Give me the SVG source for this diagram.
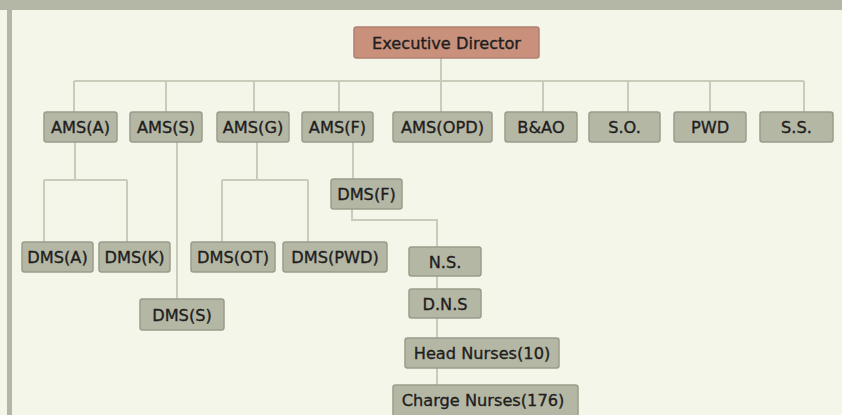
<svg xmlns="http://www.w3.org/2000/svg" width="842" height="415" viewBox="0 0 842 415">
<style>
.bg{fill:#F4F6E9}
.frame{fill:#B4B7A5}
.box{fill:#B5B7A5;stroke:#9A9C8B;stroke-width:1.5}
.top{fill:#C9917C;stroke:#B08070;stroke-width:1.5}
.t{font-family:"DejaVu Sans",Verdana,sans-serif;font-size:16.2px;fill:#1E1E1E;stroke:#1E1E1E;stroke-width:0.35;text-anchor:middle}
.c{fill:none;stroke:#C9CBBB;stroke-width:2}
</style>
<rect class="bg" x="0" y="0" width="842" height="415"/>
<rect class="frame" x="0" y="0" width="842" height="10"/>
<rect class="frame" x="7" y="0" width="5" height="415"/>
<g id="connectors">
<path class="c" d="M441,58V112M74,81H804M74,81V112M166,81V112M254,81V112M339,81V112M543,81V112M628,81V112M710,81V112M804,81V112"/>
<path class="c" d="M75,142V180M44,180H127M44,180V242M127,180V242"/>
<path class="c" d="M177,142V299"/>
<path class="c" d="M257,142V180M222,180H308M222,180V242M308,180V242"/>
<path class="c" d="M353,142V179"/>
<path class="c" d="M352,209V220H437V385"/>
</g>
<g id="ed"><rect class="top" x="354" y="27" width="185" height="31" rx="2.5"/><text class="t" x="446.5" y="48.5">Executive Director</text></g>
<g id="amsa"><rect class="box" x="44" y="112" width="73" height="30" rx="2.5"/><text class="t" x="80.5" y="133">AMS(A)</text></g>
<g id="amss"><rect class="box" x="130" y="112" width="72" height="30" rx="2.5"/><text class="t" x="166" y="133">AMS(S)</text></g>
<g id="amsg"><rect class="box" x="217" y="112" width="72" height="30" rx="2.5"/><text class="t" x="253" y="133">AMS(G)</text></g>
<g id="amsf"><rect class="box" x="302" y="112" width="71" height="30" rx="2.5"/><text class="t" x="337.5" y="133">AMS(F)</text></g>
<g id="amsopd"><rect class="box" x="393" y="112" width="99" height="30" rx="2.5"/><text class="t" x="442.5" y="133">AMS(OPD)</text></g>
<g id="bao"><rect class="box" x="505" y="112" width="72" height="30" rx="2.5"/><text class="t" x="541" y="133">B&amp;AO</text></g>
<g id="so"><rect class="box" x="589" y="112" width="71" height="30" rx="2.5"/><text class="t" x="624.5" y="133">S.O.</text></g>
<g id="pwd"><rect class="box" x="674" y="112" width="72" height="30" rx="2.5"/><text class="t" x="710" y="133">PWD</text></g>
<g id="ss"><rect class="box" x="760" y="112" width="73" height="30" rx="2.5"/><text class="t" x="796.5" y="133">S.S.</text></g>
<g id="dmsa"><rect class="box" x="22" y="242" width="71" height="30" rx="2.5"/><text class="t" x="57.5" y="263">DMS(A)</text></g>
<g id="dmsk"><rect class="box" x="99" y="242" width="71" height="30" rx="2.5"/><text class="t" x="134.5" y="263">DMS(K)</text></g>
<g id="dmss"><rect class="box" x="140" y="299" width="84" height="31" rx="2.5"/><text class="t" x="182" y="320.5">DMS(S)</text></g>
<g id="dmsot"><rect class="box" x="191" y="242" width="84" height="30" rx="2.5"/><text class="t" x="233" y="263">DMS(OT)</text></g>
<g id="dmspwd"><rect class="box" x="283" y="242" width="104" height="30" rx="2.5"/><text class="t" x="335" y="263">DMS(PWD)</text></g>
<g id="dmsf"><rect class="box" x="331" y="179" width="71" height="30" rx="2.5"/><text class="t" x="366.5" y="200">DMS(F)</text></g>
<g id="ns"><rect class="box" x="409" y="247" width="72" height="29" rx="2.5"/><text class="t" x="445" y="267.5">N.S.</text></g>
<g id="dns"><rect class="box" x="409" y="289" width="72" height="29" rx="2.5"/><text class="t" x="445" y="309.5">D.N.S</text></g>
<g id="head"><rect class="box" x="405" y="338" width="154" height="30" rx="2.5"/><text class="t" x="482" y="359">Head Nurses(10)</text></g>
<g id="charge"><rect class="box" x="393" y="385" width="185" height="32" rx="2.5"/><text class="t" x="483" y="406">Charge Nurses(176)</text></g>
</svg>
